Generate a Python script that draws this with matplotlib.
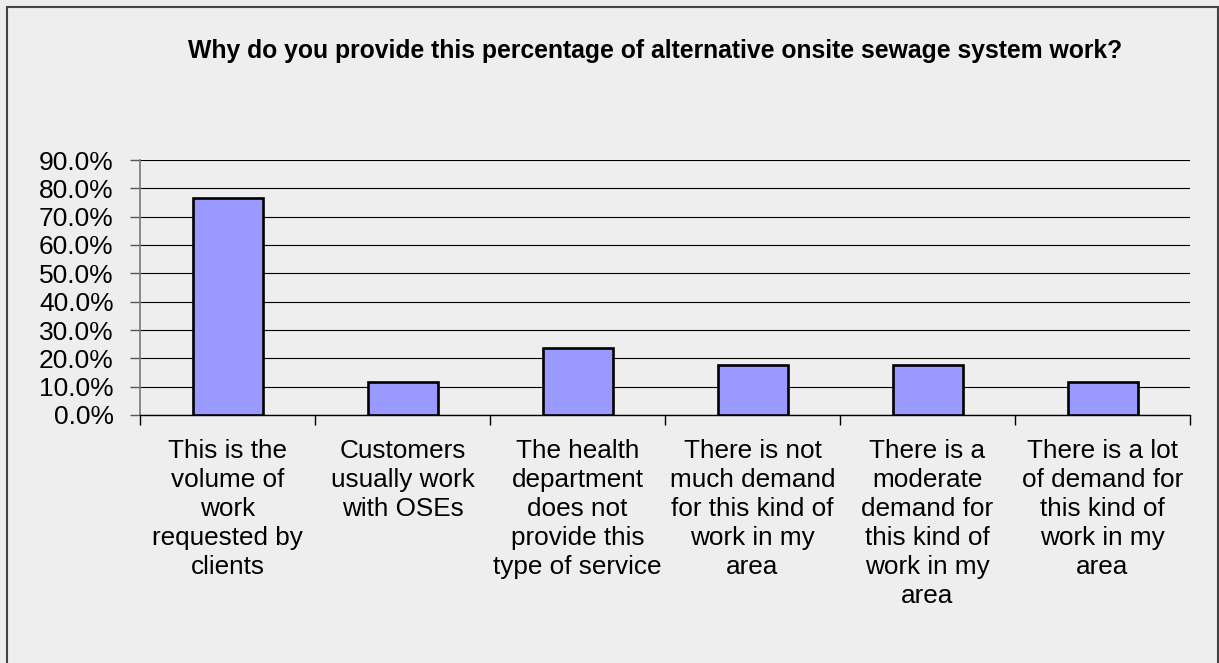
import matplotlib
matplotlib.use("Agg")
import matplotlib.pyplot as plt
from matplotlib.patches import Rectangle
from matplotlib.ticker import FuncFormatter, MultipleLocator

plt.rcParams['font.family'] = ['Liberation Sans', 'DejaVu Sans']

title = "Why do you provide this percentage of alternative onsite sewage system work?"
categories = [
    "This is the\nvolume of\nwork\nrequested by\nclients",
    "Customers\nusually work\nwith OSEs",
    "The health\ndepartment\ndoes not\nprovide this\ntype of service",
    "There is not\nmuch demand\nfor this kind of\nwork in my\narea",
    "There is a\nmoderate\ndemand for\nthis kind of\nwork in my\narea",
    "There is a lot\nof demand for\nthis kind of\nwork in my\narea",
]
percentages = [76.5, 11.8, 23.5, 17.6, 17.6, 11.8]

bg = "#eeeeee"
W, H = 1219, 663
fig = plt.figure(figsize=(W / 100, H / 100), dpi=100, facecolor=bg)

# outer chart frame (bottom edge runs past the canvas)
fig.patches.append(Rectangle((7 / W, -0.05), (1217.5 - 7) / W, 1.05 - 7 / H,
                             transform=fig.transFigure, fill=False,
                             edgecolor="#444444", linewidth=1.5, zorder=0))

ax = fig.add_axes([140 / W, 1 - 415 / H, 1050 / W, 255 / H], facecolor=bg)

x = list(range(len(categories)))
ax.bar(x, percentages, width=0.4, color="#9999ff", edgecolor="black",
       linewidth=1.9, zorder=3)

ax.set_xlim(-0.5, len(categories) - 0.5)
ax.set_ylim(0, 90)
ax.yaxis.set_major_locator(MultipleLocator(10))
ax.yaxis.set_major_formatter(FuncFormatter(lambda v, p: f"{v:.1f}%"))
ax.grid(axis="y", color="black", linewidth=0.8, zorder=1)

ax.set_xticks([i + 0.5 for i in range(-1, len(categories))], minor=False)
ax.set_xticklabels([])
ax.set_xticks(x, minor=True)
ax.set_xticklabels(categories, minor=True, fontsize=18.8, linespacing=1.27)
ax.tick_params(axis="x", which="major", length=7, color="black", width=1)
ax.tick_params(axis="x", which="minor", length=0, pad=17)
ax.tick_params(axis="y", length=7, color="#555555", width=1, labelsize=19, pad=12)

for s in ("top", "right"):
    ax.spines[s].set_visible(False)
ax.spines["left"].set_color("#777777")
ax.spines["left"].set_linewidth(1.2)
ax.spines["bottom"].set_color("black")
ax.spines["bottom"].set_linewidth(1)

fig.text(655 / W, 1 - 51 / H, title, ha="center", va="center",
         fontsize=17.8, fontweight="bold")

fig.savefig("out.png", dpi=100, facecolor=bg)
